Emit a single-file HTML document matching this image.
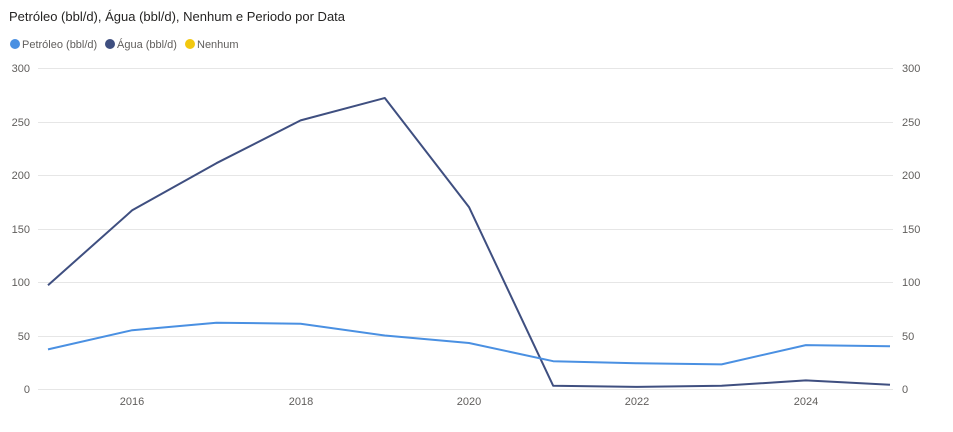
<!DOCTYPE html>
<html><head><meta charset="utf-8"><style>
body{margin:0;background:#fff;width:953px;height:427px;overflow:hidden;font-family:"Liberation Sans",sans-serif}
</style></head><body>
<svg width="953" height="427" xmlns="http://www.w3.org/2000/svg" font-family="Liberation Sans, sans-serif">
<text x="9" y="21" font-size="13" fill="#252423">Petróleo (bbl/d), Água (bbl/d), Nenhum e Periodo por Data</text>
<circle cx="15" cy="44" r="5" fill="#4a90e2"/>
<text x="22" y="48" font-size="11" fill="#605e5c">Petróleo (bbl/d)</text>
<circle cx="110" cy="44" r="5" fill="#3f4f80"/>
<text x="117" y="48" font-size="11" fill="#605e5c">Água (bbl/d)</text>
<circle cx="190" cy="44" r="5" fill="#f2c80f"/>
<text x="197" y="48" font-size="11" fill="#605e5c">Nenhum</text>
<g stroke="#e6e6e6" stroke-width="1">
<line x1="38" x2="893" y1="68.5" y2="68.5"/>
<line x1="38" x2="893" y1="122.5" y2="122.5"/>
<line x1="38" x2="893" y1="175.5" y2="175.5"/>
<line x1="38" x2="893" y1="229.5" y2="229.5"/>
<line x1="38" x2="893" y1="282.5" y2="282.5"/>
<line x1="38" x2="893" y1="336.5" y2="336.5"/>
<line x1="38" x2="893" y1="389.5" y2="389.5"/>
</g>
<g font-size="11" fill="#605e5c" text-anchor="end">
<text x="30" y="72">300</text><text x="30" y="126">250</text><text x="30" y="179">200</text>
<text x="30" y="233">150</text><text x="30" y="286">100</text><text x="30" y="340">50</text><text x="30" y="393">0</text>
</g>
<g font-size="11" fill="#605e5c" text-anchor="start">
<text x="902" y="72">300</text><text x="902" y="126">250</text><text x="902" y="179">200</text>
<text x="902" y="233">150</text><text x="902" y="286">100</text><text x="902" y="340">50</text><text x="902" y="393">0</text>
</g>
<g font-size="11" fill="#605e5c" text-anchor="middle">
<text x="132" y="405">2016</text><text x="301" y="405">2018</text><text x="469" y="405">2020</text>
<text x="637" y="405">2022</text><text x="806" y="405">2024</text>
</g>
<polyline fill="none" stroke="#3f4f80" stroke-width="2" stroke-linejoin="round" points="48,285.2 132.2,210.3 216.4,163.2 300.6,120.4 384.8,98 469,207.1 553.2,385.8 637.4,386.9 721.6,385.8 805.8,380.4 890,384.7"/>
<polyline fill="none" stroke="#4a90e2" stroke-width="2" stroke-linejoin="round" points="48,349.4 132.2,330.2 216.4,322.7 300.6,323.7 384.8,335.5 469,343 553.2,361.2 637.4,363.3 721.6,364.4 805.8,345.1 890,346.2"/>
</svg>
</body></html>
